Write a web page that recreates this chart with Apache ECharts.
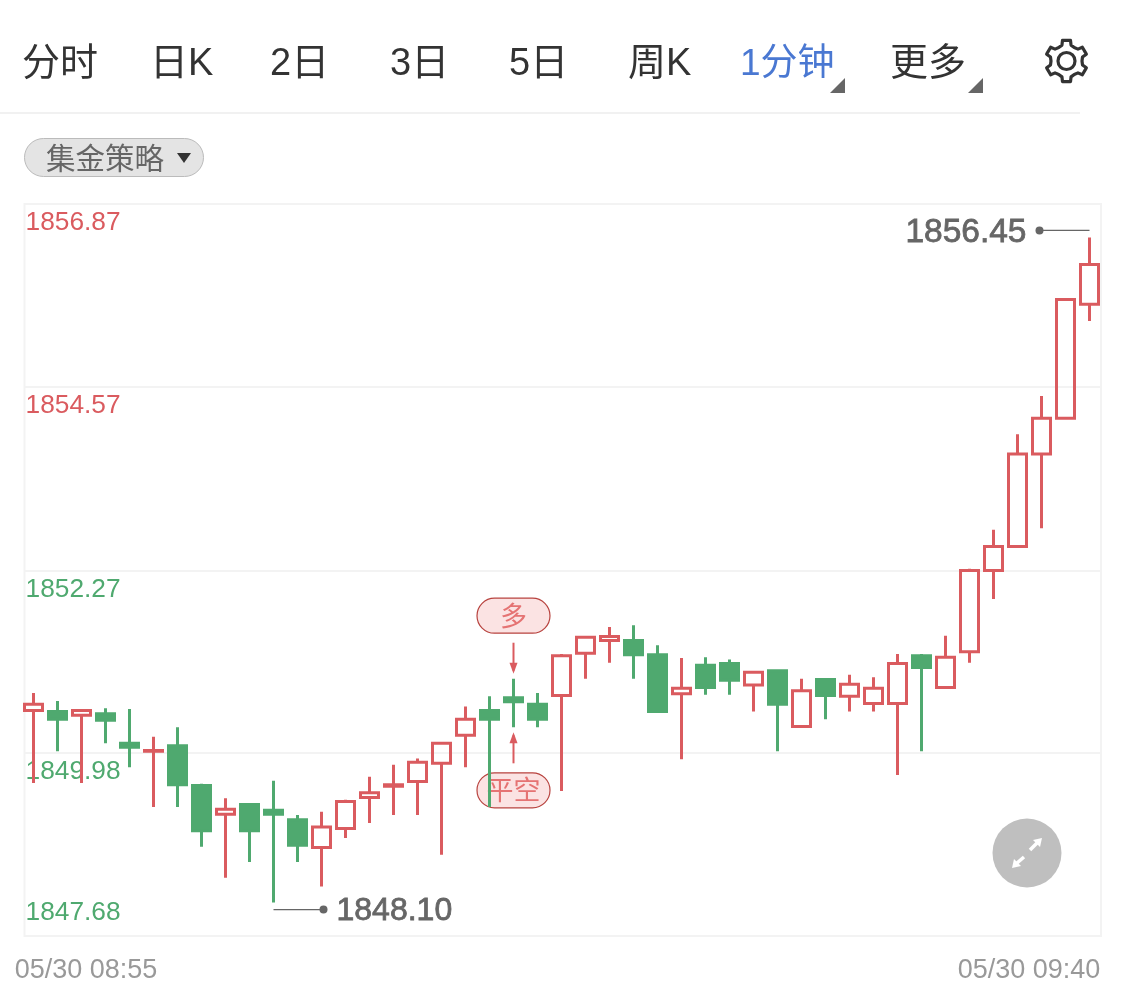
<!DOCTYPE html>
<html>
<head>
<meta charset="utf-8">
<style>html,body{margin:0;padding:0;background:#fff}#c{width:1125px;height:994px}</style>
<script src="https://cdn.jsdelivr.net/npm/echarts@6/dist/echarts.min.js"></script>
</head>
<body>
<div id="c"></div>
<script>
const categories = ['08:55','08:56','08:57','08:58','08:59','09:00','09:01','09:02','09:03','09:04','09:05','09:06','09:07','09:08','09:09','09:10','09:11','09:12','09:13','09:14','09:15','09:16','09:17','09:18','09:19','09:20','09:21','09:22','09:23','09:24','09:25','09:26','09:27','09:28','09:29','09:30','09:31','09:32','09:33','09:34','09:35','09:36','09:37','09:38','09:39'];
const opens  = [1850.51,1850.50,1850.45,1850.47,1850.10,1850.00,1850.07,1849.57,1849.21,1849.33,1849.26,1849.14,1848.79,1849.03,1849.42,1849.56,1849.62,1849.85,1850.20,1850.51,1850.67,1850.59,1850.70,1851.23,1851.39,1851.39,1851.21,1850.72,1851.08,1851.10,1850.83,1851.01,1850.31,1850.90,1850.69,1850.60,1850.60,1851.20,1850.80,1851.25,1852.27,1852.57,1853.73,1854.18,1855.61];
const closes = [1850.59,1850.40,1850.51,1850.39,1850.05,1850.01,1849.58,1849.00,1849.27,1849.00,1849.21,1848.82,1849.05,1849.37,1849.48,1849.58,1849.86,1850.10,1850.40,1850.40,1850.62,1850.40,1851.20,1851.43,1851.44,1851.21,1850.50,1850.79,1850.80,1850.89,1850.99,1850.59,1850.76,1850.70,1850.84,1850.79,1851.10,1851.05,1851.18,1852.27,1852.57,1853.73,1854.18,1855.67,1856.11];
const lows   = [1849.60,1850.00,1849.60,1850.10,1849.80,1849.30,1849.30,1848.80,1848.41,1848.61,1848.10,1848.61,1848.30,1848.91,1849.10,1849.20,1849.20,1848.70,1849.80,1849.30,1850.30,1850.30,1849.50,1850.91,1851.11,1850.91,1850.48,1849.90,1850.71,1850.71,1850.50,1850.00,1850.29,1850.40,1850.50,1850.50,1849.70,1850.00,1850.78,1851.11,1851.91,1852.55,1852.80,1854.16,1855.40];
const highs  = [1850.73,1850.63,1850.53,1850.54,1850.53,1850.18,1850.30,1849.59,1849.41,1849.35,1849.63,1849.20,1849.24,1849.39,1849.68,1849.83,1849.91,1850.12,1850.56,1850.69,1850.91,1850.73,1851.22,1851.45,1851.56,1851.58,1851.33,1851.17,1851.18,1851.15,1851.01,1851.03,1850.91,1850.92,1850.96,1850.93,1851.22,1851.22,1851.45,1852.29,1852.78,1853.98,1854.46,1855.69,1856.45];
const yTicks = [1847.68,1849.98,1852.27,1854.57,1856.87];
const xLabels = ['05/30 08:55','05/30 09:40'];
const tabs = ['分时','日K','2日','3日','5日','周K','1分钟','更多'];
const extremes = [[10,1848.10,'1848.10',1],[44,1856.45,'1856.45',-1]];
const signals = [[20,1850.91,1850.30,'多','平空']];

const RED='#DA5B5F', GREEN='#4FA96F', GREY='#666666', LINE='#F3F3F3';
const CJK="'Liberation Sans','Noto Sans CJK SC',sans-serif";
const candles = categories.map((c,i)=>[opens[i],closes[i],lows[i],highs[i]]);

const tabX=[22,150,270,390,509,628,740,890];
const graphics=[];
tabs.forEach((t,i)=>graphics.push({type:'text',x:tabX[i],y:65,style:{text:t,font:(i===6?'37px ':'38px ')+CJK,fill:i===6?'#4A78D2':'#333333',textVerticalAlign:'middle',textAlign:'left'}}));
[[845,78],[983,78]].forEach(p=>graphics.push({type:'polygon',shape:{points:[[p[0],p[1]],[p[0],p[1]+15],[p[0]-15,p[1]+15]]},style:{fill:'#666666'}}));
graphics.push({type:'rect',shape:{x:0,y:112,width:1080,height:2},style:{fill:'#F1F1F1'}});
graphics.push({type:'rect',shape:{x:24.5,y:138.5,width:179,height:38,r:19},style:{fill:'#E4E4E4',stroke:'#BBBBBB',lineWidth:1}});
graphics.push({type:'text',x:46,y:161,style:{text:'集金策略',font:'29.5px '+CJK,fill:'#666666',textVerticalAlign:'middle'}});
graphics.push({type:'polygon',shape:{points:[[177,153],[191,153],[184,163]]},style:{fill:'#333333'}});
// gear icon
const gc=[1066.5,61], gear=[];
for(let k=0;k<6;k++){
  const a=(-90+60*k);
  [[a-30,15.5],[a-16,16.5],[a-11,21],[a+11,21],[a+16,16.5]].forEach(q=>{
    const r=q[0]*Math.PI/180; gear.push([gc[0]+q[1]*Math.cos(r),gc[1]+q[1]*Math.sin(r)]);
  });
}
graphics.push({type:'polygon',shape:{points:gear},style:{fill:'none',stroke:'#333333',lineWidth:3.2,lineJoin:'round'}});
graphics.push({type:'circle',shape:{cx:gc[0],cy:gc[1],r:8.5},style:{fill:'none',stroke:'#333333',lineWidth:3.2}});
// expand button
graphics.push({type:'circle',z:10,shape:{cx:1027,cy:853,r:34.5},style:{fill:'#BFBFBF'}});
graphics.push({type:'line',z:11,shape:{x1:1030,y1:850,x2:1037,y2:843},style:{stroke:'#fff',lineWidth:3.5}});
graphics.push({type:'line',z:11,shape:{x1:1024,y1:857,x2:1017,y2:863},style:{stroke:'#fff',lineWidth:3.5}});
graphics.push({type:'polygon',z:11,shape:{points:[[1042,838],[1033,840],[1040,847]]},style:{fill:'#fff'}});
graphics.push({type:'polygon',z:11,shape:{points:[[1012,868],[1021,866],[1014,859]]},style:{fill:'#fff'}});

const chart=echarts.init(document.getElementById('c'),null,{renderer:'canvas'});
chart.setOption({
  animation:false,
  backgroundColor:'#fff',
  graphic:graphics,
  grid:[
    {left:21.5,width:1080,top:204,height:732,show:false},
    {left:24.5,width:1076.5,top:204,height:732,show:true,borderColor:LINE,borderWidth:2,backgroundColor:'transparent'},
    {left:86,width:943,top:204,height:732,show:false}
  ],
  xAxis:[
    {type:'category',gridIndex:0,data:categories,boundaryGap:true,show:false},
    {type:'category',gridIndex:1,data:categories,show:false},
    {type:'category',gridIndex:2,data:xLabels,boundaryGap:false,axisLine:{show:false},axisTick:{show:false},splitLine:{show:false},
     axisLabel:{color:'#999999',fontSize:27,fontFamily:'Liberation Sans',margin:21,interval:0,hideOverlap:false}}
  ],
  yAxis:[
    {type:'value',gridIndex:0,min:yTicks[0],max:yTicks[4],show:false,scale:true},
    {type:'value',gridIndex:1,min:yTicks[0],max:yTicks[4],scale:true,position:'left',
     axisLine:{show:false},axisTick:{show:false,customValues:yTicks},
     splitLine:{show:true,lineStyle:{color:LINE,width:2}},
     axisLabel:{inside:true,margin:1,customValues:yTicks,verticalAlign:'top',verticalAlignMinLabel:'bottom',fontFamily:'Liberation Sans',fontSize:26,
       formatter:v=>{const s=v.toFixed(2);return v===yTicks[0]?`{m|${s}}`:(v>yTicks[2]?`{u|${s}}`:`{d|${s}}`);},
       rich:{u:{color:RED,fontSize:26.3,lineHeight:38,fontFamily:'Liberation Sans'},d:{color:GREEN,fontSize:26.3,lineHeight:38,fontFamily:'Liberation Sans'},m:{color:GREEN,fontSize:26.3,lineHeight:46,fontFamily:'Liberation Sans'}}}},
    {type:'value',gridIndex:2,show:false}
  ],
  series:[
    {type:'custom',xAxisIndex:0,yAxisIndex:0,z:1,clip:false,data:signals,encode:{x:0,y:1},
     renderItem:(p,api)=>{
       const x=api.coord([api.value(0),api.value(1)])[0];
       const yh=api.coord([api.value(0),api.value(1)])[1];
       const yl=api.coord([api.value(0),api.value(2)])[1];
       const sig=signals[p.dataIndex];
       const pill=(cy,txt)=>[{type:'rect',shape:{x:x-36.5,y:cy-17.5,width:73,height:35,r:17.5},style:{fill:'#FBE3E3',stroke:'#B8433F',lineWidth:1.2}},
         {type:'text',style:{x:x,y:cy+2.5,text:txt,font:'27px '+CJK,fill:'#E57373',textAlign:'center',textVerticalAlign:'middle'}}];
       const arrow=(y1,y2,d)=>[{type:'line',shape:{x1:x,y1:y1,x2:x,y2:y2},style:{stroke:RED,lineWidth:2}},
         {type:'polygon',shape:{points:[[x,y2+d*3],[x-4,y2-d*8],[x+4,y2-d*8]]},style:{fill:RED}}];
       return {type:'group',children:[].concat(pill(yh-63,sig[3]),arrow(yh-36,yh-8,1),pill(yl+63,sig[4]),arrow(yl+36,yl+8,-1))};
     }},
    {type:'candlestick',xAxisIndex:0,yAxisIndex:0,z:3,barWidth:18,data:candles,
     itemStyle:{color:'transparent',color0:GREEN,borderColor:RED,borderColor0:GREEN,borderWidth:3}},
    {type:'custom',xAxisIndex:0,yAxisIndex:0,z:5,clip:false,data:extremes,encode:{x:0,y:1},
     renderItem:(p,api)=>{
       const e=extremes[p.dataIndex];
       const c=api.coord([e[0],e[1]]);
       const low=e[3]>0;
       const y=c[1]+(low?7:-7), x2=c[0]+(low?50:-50);
       return {type:'group',children:[
         {type:'line',shape:{x1:c[0],y1:y,x2:x2,y2:y},style:{stroke:GREY,lineWidth:1.2}},
         {type:'circle',shape:{cx:x2,cy:y,r:4},style:{fill:GREY}},
         {type:'text',style:{x:x2+(low?13:-13),y:y+2,text:e[2],font:(low?'32px':'33.5px')+' Liberation Sans',fill:GREY,stroke:GREY,lineWidth:0.8,textAlign:low?'left':'right',textVerticalAlign:'middle'}}
       ]};
     }}
  ]
});
</script>
</body>
</html>
